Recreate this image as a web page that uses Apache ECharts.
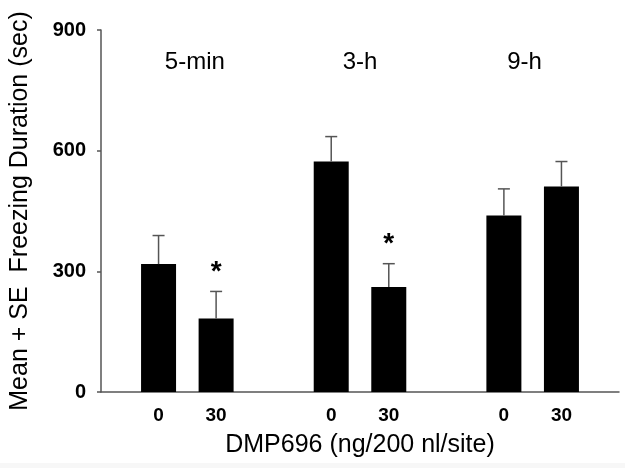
<!DOCTYPE html>
<html>
<head>
<meta charset="utf-8">
<script src="https://cdn.jsdelivr.net/npm/echarts@6/dist/echarts.min.js"></script>
<style>
html,body{margin:0;padding:0;background:#fff;}
#chart{width:625px;height:468px;background:linear-gradient(to bottom,#ffffff 0,#ffffff 463px,#f7f7f7 463px,#f7f7f7 468px);}
</style>
</head>
<body>
<div id="chart"></div>
<script>
// Data
var categories = ['', '0', '30', '', '0', '30', '', '0', '30', ''];
var means      = [null, 318, 183, null, 573, 261, null, 439, 511, null];
var seValues   = [null, 71, 67, null, 62, 58, null, 66, 62, null];
var significant = [false, false, true, false, false, true, false, false, false, false];
var groupLabels = ['5-min', '3-h', '9-h'];
var groupLabelPos = [1.63, 4.5, 7.36];
var groupLabelY = 819;
var yTicks = [0, 300, 600, 900];

var FONT = '"Liberation Sans", Arial, sans-serif';
var chart = echarts.init(document.getElementById('chart'), null, {renderer: 'canvas'});

var errData = [];
for (var i = 0; i < categories.length; i++) {
  if (means[i] != null) errData.push([i, means[i], means[i] + seValues[i], significant[i] ? 1 : 0]);
}
var groupData = groupLabels.map(function (g, k) { return [groupLabelPos[k], groupLabelY, k]; });

var option = {
  backgroundColor: 'transparent',
  animation: false,
  grid: {left: 100, right: 6, top: 30, bottom: 76},
  xAxis: [{
    type: 'category',
    data: categories,
    boundaryGap: false,
    axisLine: {lineStyle: {color: '#555', width: 1.5}},
    axisTick: {show: false},
    axisLabel: {interval: 0, margin: 14, fontFamily: FONT, fontSize: 19, fontWeight: 'bold', color: '#000'},
    name: 'DMP696 (ng/200 nl/site)',
    nameLocation: 'middle',
    nameGap: 41,
    nameTextStyle: {fontFamily: FONT, fontSize: 25, color: '#000'}
  }, {
    type: 'value', min: 0, max: 9, show: false
  }],
  yAxis: [{
    type: 'value',
    min: 0, max: 900, interval: 300,
    axisLine: {show: true, lineStyle: {color: '#555', width: 1.5}},
    axisTick: {show: true, length: 4, inside: false, lineStyle: {color: '#555', width: 1.5}},
    splitLine: {show: false},
    axisLabel: {margin: 15, fontFamily: FONT, fontSize: 20, fontWeight: 'bold', color: '#000'},
    name: 'Mean + SE  Freezing Duration (sec)',
    nameLocation: 'middle',
    nameGap: 68,
    nameTextStyle: {fontFamily: FONT, fontSize: 25, color: '#000'}
  }],
  series: [{
    type: 'bar',
    data: means,
    barWidth: 35,
    itemStyle: {color: '#000'},
    z: 2
  }, {
    type: 'custom',
    data: errData,
    z: 3,
    renderItem: function (params, api) {
      var x = api.value(0);
      var base = api.coord([x, api.value(1)]);
      var top = api.coord([x, api.value(2)]);
      var half = 6;
      var children = [{
        type: 'line',
        shape: {x1: base[0], y1: base[1], x2: top[0], y2: top[1]},
        style: {stroke: '#555', lineWidth: 1.5}
      }, {
        type: 'line',
        shape: {x1: top[0] - half, y1: top[1], x2: top[0] + half, y2: top[1]},
        style: {stroke: '#555', lineWidth: 1.5}
      }];
      if (api.value(3) === 1) {
        children.push({
          type: 'text',
          style: {text: '*', x: top[0], y: top[1] - 19, align: 'center', verticalAlign: 'middle',
                  font: 'bold 28px ' + FONT, fill: '#000'}
        });
      }
      return {type: 'group', children: children};
    }
  }, {
    type: 'custom',
    xAxisIndex: 1,
    data: groupData,
    z: 4,
    renderItem: function (params, api) {
      var p = api.coord([api.value(0), api.value(1)]);
      return {
        type: 'text',
        style: {text: groupLabels[api.value(2)], x: p[0], y: p[1], align: 'center', verticalAlign: 'middle',
                font: '24px ' + FONT, fill: '#000'}
      };
    }
  }]
};
chart.setOption(option);
</script>
</body>
</html>
